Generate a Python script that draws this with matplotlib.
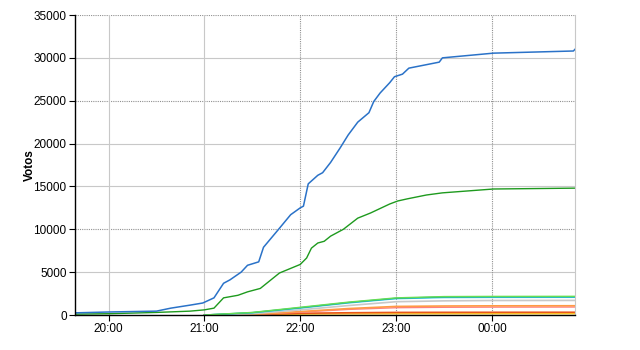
import datetime as dt
import matplotlib
matplotlib.use("Agg")
import matplotlib.pyplot as plt
import matplotlib.dates as mdates

plt.rcParams['font.family'] = ['Liberation Sans', 'DejaVu Sans']

day = dt.date(2015, 5, 24)

def hm(s):
    h, m = map(int, s.split(':'))
    d = day if h >= 12 else day + dt.timedelta(days=1)
    return dt.datetime.combine(d, dt.time(h, m))

# serie principal (azul)
blue_t = ['19:39', '20:00', '20:30', '20:39', '20:51', '20:59', '21:06', '21:12', '21:16',
          '21:23', '21:27', '21:34', '21:37', '21:46', '21:54', '22:00', '22:02', '22:05',
          '22:11', '22:14', '22:19', '22:25', '22:30', '22:36', '22:43', '22:46', '22:50',
          '22:56', '22:59', '23:04', '23:08', '23:27', '23:29', '00:01', '00:51', '00:52']
blue_v = [250, 350, 450, 800, 1150, 1400, 2000, 3700, 4100,
          5000, 5800, 6200, 7900, 9900, 11700, 12500, 12700, 15300,
          16300, 16600, 17800, 19500, 21000, 22500, 23600, 24900, 25900,
          27100, 27800, 28100, 28800, 29500, 30000, 30550, 30800, 31000]

green_t = ['19:39', '20:00', '20:30', '20:51', '21:00', '21:06', '21:12', '21:21', '21:27',
           '21:35', '21:47', '22:00', '22:04', '22:07', '22:11', '22:15', '22:19', '22:27',
           '22:36', '22:44', '22:56', '23:01', '23:07', '23:19', '23:29', '00:01', '00:52']
green_v = [100, 150, 300, 450, 600, 800, 2000, 2300, 2700,
           3100, 4900, 5900, 6650, 7800, 8400, 8600, 9200, 10000,
           11300, 11900, 12950, 13300, 13550, 14000, 14250, 14700, 14800]

small_t = ['21:00', '21:30', '22:00', '22:30', '23:00', '23:30', '00:00', '00:52']
lightgreen_v = [0, 300, 900, 1500, 2000, 2150, 2170, 2180]
teal_v = [0, 280, 850, 1450, 1950, 2100, 2120, 2130]
cyan_v = [0, 250, 800, 1400, 1900, 2030, 2050, 2060]
gray_v = [0, 150, 600, 1100, 1550, 1650, 1690, 1700]
orange_v = [0, 60, 400, 750, 1000, 1050, 1070, 1080]
salmon_v = [0, 50, 330, 650, 850, 900, 920, 930]
red_v = [0, 60, 200, 260, 300, 310, 315, 320]
yellow_v = [0, 30, 100, 130, 140, 145, 148, 150]

fig = plt.figure(figsize=(6.4, 3.5), dpi=100)
ax = fig.add_axes([75 / 640, 35 / 350, 500 / 640, 300 / 350])

st = [hm(s) for s in small_t]
ax.plot(st, yellow_v, color='#ffcc22', lw=1)
ax.plot(st, red_v, color='#e8561a', lw=1.2)
ax.plot(st, salmon_v, color='#ff7f7f', lw=1)
ax.plot(st, orange_v, color='#ff9a44', lw=1.2)
ax.plot(st, gray_v, color='#c8c8c8', lw=1.2)
ax.plot(st, cyan_v, color='#44ccee', lw=1)
ax.plot(st, teal_v, color='#11aa99', lw=1)
ax.plot(st, lightgreen_v, color='#66dd55', lw=1)
ax.plot([hm(s) for s in green_t], green_v, color='#1e9a1e', lw=1)
ax.plot([hm(s) for s in blue_t], blue_v, color='#2a72c8', lw=1.1)

ax.set_xlim(hm('19:39'), hm('00:52'))
ax.set_ylim(0, 35000)
ax.set_yticks(range(0, 35001, 5000))
ax.xaxis.set_major_locator(mdates.HourLocator())
ax.xaxis.set_major_formatter(mdates.DateFormatter('%H:%M'))

dotted_y = [10000, 25000, 35000]
for y in range(5000, 35001, 5000):
    if y in dotted_y:
        ax.axhline(y, color='#909090', lw=0.8, ls=(0, (1, 1)), zorder=0)
    else:
        ax.axhline(y, color='#c8c8c8', lw=0.8, zorder=0)
for s in ['20:00', '21:00', '22:00', '23:00', '00:00']:
    if s in ['20:00', '21:00']:
        ax.axvline(hm(s), color='#c8c8c8', lw=0.8, zorder=0)
    else:
        ax.axvline(hm(s), color='#909090', lw=0.8, ls=(0, (1, 1)), zorder=0)

ax.spines['top'].set_visible(False)
ax.spines['right'].set_color('#c8c8c8')
ax.spines['left'].set_linewidth(1)
ax.spines['bottom'].set_linewidth(1)
ax.tick_params(axis='both', labelsize=8.5, length=4, width=0.8, direction='out', pad=2)
ax.set_ylabel('Votos', fontsize=8.5, fontweight='bold')
ax.yaxis.set_label_coords(-0.078, 0.5)

fig.savefig('out.png', dpi=100)
